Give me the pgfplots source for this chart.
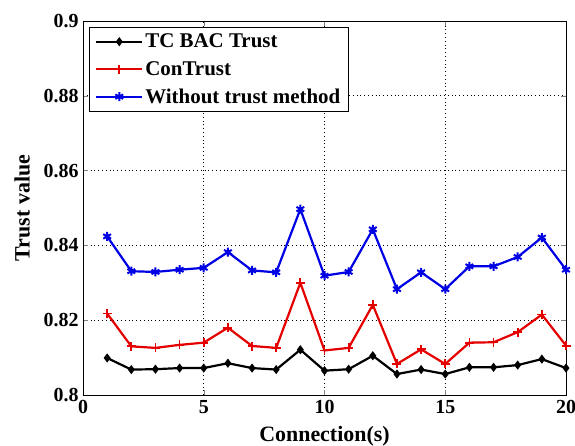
\documentclass[border=0pt]{standalone}
\usepackage{pgfplots}
\pgfplotsset{compat=1.18}
\usepackage{fontspec}
\setmainfont{Liberation Serif}
\begin{document}
\begin{tikzpicture}
\begin{axis}[
  scale only axis,
  width=483bp, height=374bp,
  at={(0,0)}, anchor=south west,
  xmin=0, xmax=20, ymin=0.8, ymax=0.9,
  xtick={0,5,10,15,20},
  ytick={0.8,0.82,0.84,0.86,0.88,0.9},
  yticklabels={0.8,0.82,0.84,0.86,0.88,0.9},
  /pgf/number format/assume math mode=true,
  tick label style={font=\fontsize{20}{22}\selectfont\bfseries},
  xticklabel style={yshift=-2bp},
  yticklabel style={xshift=-1bp},
  tick align=inside,
  major tick length=5bp,
  grid=major,
  major grid style={black, dash pattern=on 0.8bp off 3bp, line width=0.6bp},
  axis line style={line width=0.8bp},
  xlabel={Connection(s)},
  ylabel={Trust value},
  label style={font=\fontsize{22}{24}\selectfont\bfseries},
  xlabel style={at={(axis description cs:0.5,0)}, anchor=base, yshift=-46bp},
  ylabel style={yshift=7bp},
  legend style={at={(0.012,0.985)}, anchor=north west, font=\fontsize{21}{23}\selectfont\bfseries,
    draw=black, line width=0.8bp, row sep=8bp, inner xsep=6bp, inner ysep=5bp},
  legend cell align=left,
  legend image code/.code={\draw[mark repeat=2,mark phase=2,#1] plot coordinates {(0bp,0bp) (23bp,0bp) (46bp,0bp)};},
]
\addplot[black, line width=2.2bp, mark=diamond*, mark size=3.8bp, mark options={solid, line width=1bp}] coordinates {
(1,0.8099) (2,0.8068) (3,0.8069) (4,0.8072) (5,0.8072) (6,0.8085) (7,0.8072) (8,0.8068) (9,0.8121) (10,0.8065)
(11,0.8069) (12,0.8105) (13,0.8056) (14,0.8068) (15,0.8056) (16,0.8074) (17,0.8074) (18,0.8080) (19,0.8096) (20,0.8072)};
\addlegendentry{TC BAC Trust}
\addplot[red!90!black, line width=2.2bp, mark=+, mark size=4.5bp, mark options={solid, line width=1.8bp}] coordinates {
(1,0.8218) (2,0.8130) (3,0.8126) (4,0.8134) (5,0.8140) (6,0.8180) (7,0.8131) (8,0.8126) (9,0.8300) (10,0.8119)
(11,0.8126) (12,0.8241) (13,0.8083) (14,0.8122) (15,0.8083) (16,0.8140) (17,0.8141) (18,0.8168) (19,0.8215) (20,0.8132)};
\addlegendentry{ConTrust}
\addplot[blue!90!black, line width=2.2bp, mark=asterisk, mark size=4.5bp, mark options={solid, line width=2bp}] coordinates {
(1,0.8424) (2,0.8331) (3,0.8329) (4,0.8335) (5,0.8340) (6,0.8382) (7,0.8333) (8,0.8328) (9,0.8497) (10,0.8319)
(11,0.8329) (12,0.8443) (13,0.8283) (14,0.8328) (15,0.8283) (16,0.8344) (17,0.8344) (18,0.8369) (19,0.8421) (20,0.8335)};
\addlegendentry{Without trust method}
\end{axis}
\pgfresetboundingbox
\path[use as bounding box] (-83bp,-51bp) rectangle (492bp,395bp);
\end{tikzpicture}
\end{document}
